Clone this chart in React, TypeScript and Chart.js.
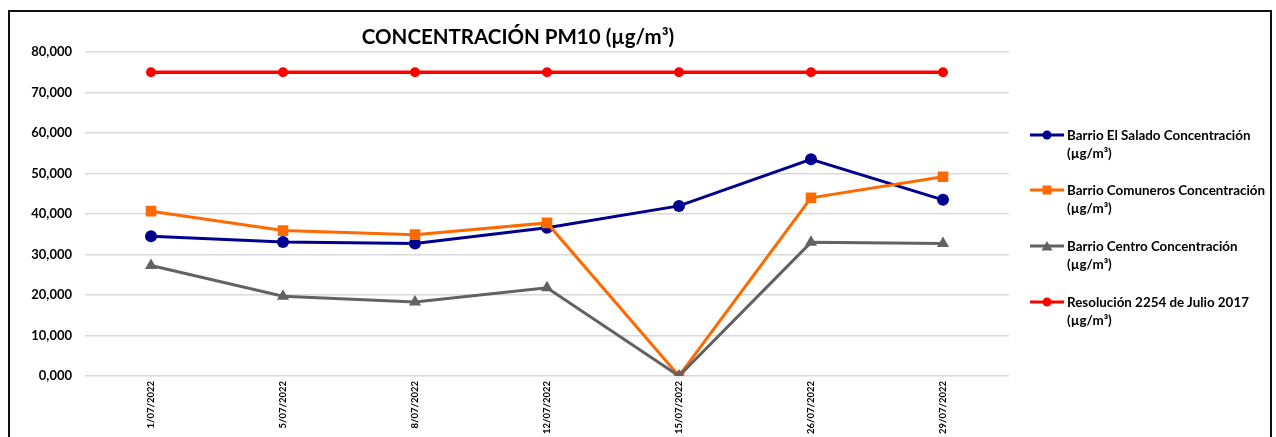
import React, { useEffect, useRef } from "react";
import { Chart, registerables } from "chart.js";

Chart.register(...registerables);

const categories = ["1/07/2022", "5/07/2022", "8/07/2022", "12/07/2022", "15/07/2022", "26/07/2022", "29/07/2022"];
const elSalado = [34.5, 33.1, 32.7, 36.6, 42.0, 53.5, 43.5];
const comuneros = [40.7, 35.9, 34.9, 37.8, 0.0, 44.0, 49.2];
const centro = [27.3, 19.7, 18.3, 21.8, 0.0, 33.0, 32.7];
const resolucion = [75.0, 75.0, 75.0, 75.0, 75.0, 75.0, 75.0];
const yTicks = [0, 10, 20, 30, 40, 50, 60, 70, 80];

const FONT = "Lato, 'Noto Sans', sans-serif";

const seriesNames = [
  "Barrio El Salado Concentración",
  "Barrio Comuneros Concentración",
  "Barrio Centro Concentración",
  "Resolución 2254 de Julio 2017",
];
const seriesColors = ["#00008f", "#ff6a00", "#626262", "#ff0000"];
const seriesShapes = ["circle", "rect", "triangle", "circle"];

function LegendMarker({ color, shape }: { color: string; shape: string }) {
  return (
    <svg width={34} height={12} style={{ display: "block" }}>
      <line x1={0} y1={6} x2={34} y2={6} stroke={color} strokeWidth={3} />
      {shape === "circle" && <circle cx={17} cy={6} r={4.5} fill={color} />}
      {shape === "rect" && <rect x={12.5} y={1.5} width={9} height={9} fill={color} />}
      {shape === "triangle" && <polygon points="17,1 22.5,10.5 11.5,10.5" fill={color} />}
    </svg>
  );
}

export default function App() {
  const canvasRef = useRef<HTMLCanvasElement | null>(null);

  useEffect(() => {
    document.body.style.margin = "0";
    const ctx = canvasRef.current!.getContext("2d")!;
    const mk = (label: string, data: number[], color: string, style: any, r: number, w: number) => ({
      label,
      data,
      borderColor: color,
      backgroundColor: color,
      pointBackgroundColor: color,
      pointBorderColor: color,
      pointStyle: style,
      pointRadius: r,
      pointBorderWidth: 0,
      borderWidth: w,
      tension: 0,
    });
    const chart = new Chart(ctx, {
      type: "line",
      data: {
        labels: categories,
        datasets: [
          mk(seriesNames[3], resolucion, seriesColors[3], "circle", 5, 3.5),
          mk(seriesNames[2], centro, seriesColors[2], "triangle", 7, 3),
          mk(seriesNames[1], comuneros, seriesColors[1], "rect", 7.5, 3),
          mk(seriesNames[0], elSalado, seriesColors[0], "circle", 6, 3),
        ],
      },
      options: {
        animation: false,
        responsive: false,
        maintainAspectRatio: false,
        layout: { padding: { left: 0, right: 267, top: 52, bottom: 0 } },
        plugins: {
          legend: { display: false },
          title: { display: false },
          tooltip: { enabled: false },
        },
        scales: {
          x: {
            offset: true,
            grid: { display: false, drawTicks: false },
            border: { display: false },
            ticks: {
              autoSkip: false,
              maxRotation: 90,
              minRotation: 90,
              padding: 5,
              color: "#000",
              font: { family: FONT, size: 9.5, weight: "bold" },
            },
            afterFit: (s: any) => {
              s.height = 61;
            },
          },
          y: {
            min: 0,
            max: 80,
            afterBuildTicks: (s: any) => {
              s.ticks = yTicks.map((v) => ({ value: v }));
            },
            grid: { color: "#d9d9d9", lineWidth: 1.5, drawTicks: false },
            border: { display: false },
            ticks: {
              padding: 13,
              color: "#000",
              font: { family: FONT, size: 13, weight: "bold" },
              callback: (v: any) => Number(v).toFixed(0) + ",000",
            },
            afterFit: (s: any) => {
              s.width = 85;
            },
          },
        },
      },
    });
    return () => chart.destroy();
  }, []);

  const legendTops = [126, 181, 237, 293];

  return (
    <div style={{ position: "fixed", left: 0, top: 0, width: 1276, height: 437, overflow: "hidden", background: "#fff" }}>
      <canvas ref={canvasRef} width={1276} height={437} style={{ position: "absolute", left: 0, top: 0 }} />
      <div
        style={{
          position: "absolute",
          left: 8,
          top: 10,
          width: 1260,
          height: 460,
          border: "2px solid #111",
          pointerEvents: "none",
        }}
      />
      <div
        style={{
          position: "absolute",
          left: 218,
          width: 600,
          top: 23,
          textAlign: "center",
          fontFamily: FONT,
          fontWeight: 700,
          fontSize: 20.5,
          lineHeight: "26px",
          color: "#000",
        }}
      >
        CONCENTRACIÓN PM10 (µg/m³)
      </div>
      {seriesNames.map((name, i) => (
        <div key={name} style={{ position: "absolute", left: 1030, top: legendTops[i], display: "flex", alignItems: "flex-start" }}>
          <div style={{ marginTop: 3, marginRight: 3 }}>
            <LegendMarker color={seriesColors[i]} shape={seriesShapes[i]} />
          </div>
          <div style={{ fontFamily: FONT, fontWeight: 700, fontSize: 13.4, lineHeight: "18px", color: "#000", whiteSpace: "nowrap" }}>
            {name}
            <br />
            (µg/m³)
          </div>
        </div>
      ))}
    </div>
  );
}
